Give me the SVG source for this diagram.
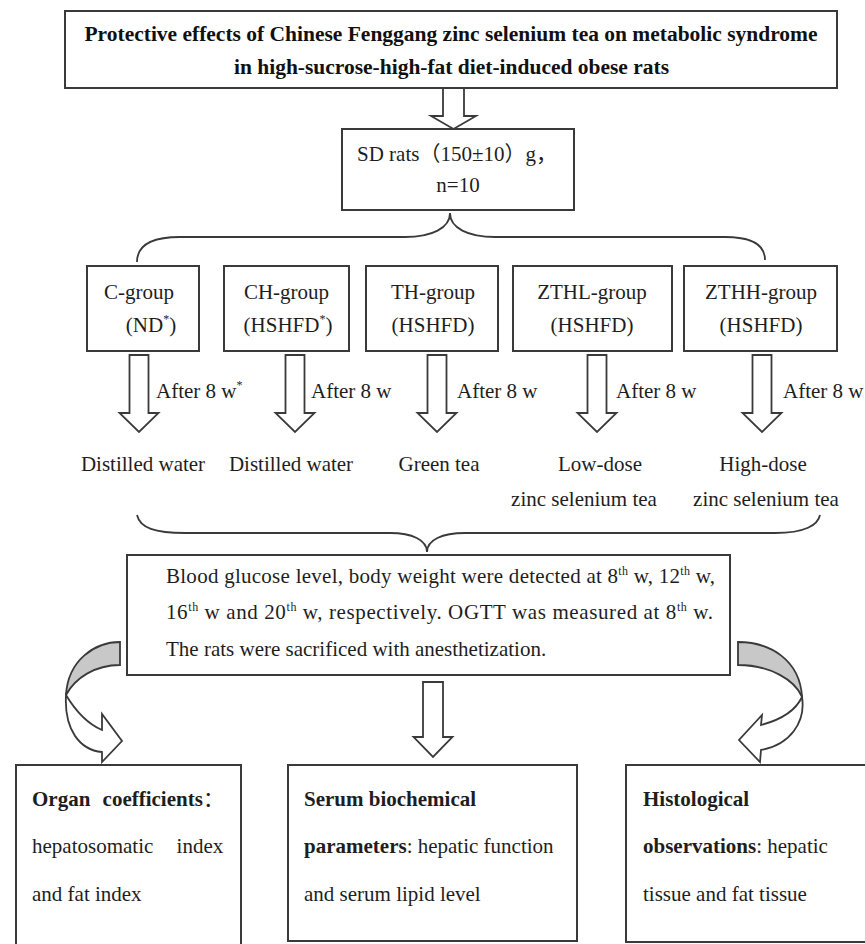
<svg xmlns="http://www.w3.org/2000/svg" width="865" height="944" viewBox="0 0 865 944">
<style>
  .box{fill:#fff;stroke:#3a3a3a;stroke-width:2}
  .t{font-family:"Liberation Serif","Noto Sans CJK SC",serif;font-size:21px;fill:#1e1e1e}
  .b{font-weight:bold}
  .title{font-family:"Liberation Serif","Noto Sans CJK SC",serif;font-size:20px;font-weight:bold;fill:#111}
  .c{text-anchor:middle}
  .sup{font-size:12px}
  .arr{fill:#fff;stroke:#3a3a3a;stroke-width:1.8;stroke-linejoin:miter}
  .brace{fill:none;stroke:#3a3a3a;stroke-width:1.8}
  .gray{fill:#c8c8c8;stroke:#3a3a3a;stroke-width:1.8}
</style>
<defs>
  <path id="down" d="M-9.5,0 L9.5,0 L9.5,58 L19.5,58 L0,77 L-19.5,58 L-9.5,58 Z"/>
</defs>
<rect width="865" height="944" fill="#fff"/>

<g id="connectors">
  <path class="arr" d="M443,88 L443,116 L431,116 L453.5,129 L476,116 L464,116 L464,88 Z"/>
  <path class="brace" d="M137,262 C137,247 148,237 180,237 L405,237 C432,237 450,228 450,213 C450,228 468,237 495,237 L725,237 C755,237 765,247 765,260"/>
  <use href="#down" class="arr" transform="translate(139,355)"/>
  <use href="#down" class="arr" transform="translate(295,355)"/>
  <use href="#down" class="arr" transform="translate(437,355)"/>
  <use href="#down" class="arr" transform="translate(597,355)"/>
  <use href="#down" class="arr" transform="translate(762,355)"/>
  <path class="brace" d="M137,515 C140,528 155,533 185,533 L390,533 C412,533 427,540 427,552 C427,540 442,533 465,533 L775,533 C805,533 818,525 820,515"/>
  <path class="arr" d="M423,682 L443,682 L443,737 L452.5,737 L433,757 L413.5,737 L423,737 Z"/>
  <path class="gray" d="M120,642 C95,642 68,660 66,695 C75,678 95,665 120,665 Z"/>
  <path class="arr" d="M66,695 C75,710 88,724 102,730 L102,714 L122,741 L102,762 L102,752 C80,750 64,730 66,695 Z"/>
  <path class="gray" d="M738,642 C770,642 800,660 802,697 C795,680 770,665 738,665 Z"/>
  <path class="arr" d="M802,697 C806,722 790,745 761,750 L760,762 L739,740 L762,715 L761,725 C780,720 795,712 802,697 Z"/>
</g>

<g id="title">
  <rect class="box" x="65" y="11" width="772" height="77"/>
  <text class="title c" x="451" y="41" textLength="733" lengthAdjust="spacingAndGlyphs">Protective effects of Chinese Fenggang zinc selenium tea on metabolic syndrome</text>
  <text class="title c" x="451.5" y="74" textLength="435" lengthAdjust="spacingAndGlyphs">in high-sucrose-high-fat diet-induced obese rats</text>
</g>

<g id="sd-rats">
  <rect class="box" x="342" y="129" width="232" height="81"/>
  <text class="t" x="357" y="161">SD rats（150±10）g，</text>
  <text class="t c" x="458" y="192">n=10</text>
</g>

<g id="c-group">
  <rect class="box" x="87" y="266" width="112" height="85"/>
  <text class="t c" x="139" y="299">C-group</text>
  <text class="t c" x="151" y="332">(ND<tspan class="sup" dy="-9">*</tspan><tspan dy="9">)</tspan></text>
</g>
<g id="ch-group">
  <rect class="box" x="224" y="266" width="125" height="85"/>
  <text class="t c" x="286.5" y="299">CH-group</text>
  <text class="t c" x="288" y="332">(HSHFD<tspan class="sup" dy="-9">*</tspan><tspan dy="9">)</tspan></text>
</g>
<g id="th-group">
  <rect class="box" x="366" y="266" width="132" height="85"/>
  <text class="t c" x="433" y="299">TH-group</text>
  <text class="t c" x="433" y="332">(HSHFD)</text>
</g>
<g id="zthl-group">
  <rect class="box" x="513" y="266" width="159" height="85"/>
  <text class="t c" x="592" y="299">ZTHL-group</text>
  <text class="t c" x="592" y="332">(HSHFD)</text>
</g>
<g id="zthh-group">
  <rect class="box" x="684" y="266" width="153" height="85"/>
  <text class="t c" x="761" y="299">ZTHH-group</text>
  <text class="t c" x="761" y="332">(HSHFD)</text>
</g>

<g id="after-labels">
  <text class="t" x="156" y="398">After 8 w<tspan class="sup" dy="-9">*</tspan></text>
  <text class="t" x="311" y="398">After 8 w</text>
  <text class="t" x="457" y="398">After 8 w</text>
  <text class="t" x="616" y="398">After 8 w</text>
  <text class="t" x="783" y="398">After 8 w</text>
</g>

<g id="treatments">
  <text class="t c" x="143" y="471">Distilled water</text>
  <text class="t c" x="291" y="471">Distilled water</text>
  <text class="t c" x="439" y="471">Green tea</text>
  <text class="t c" x="600" y="471">Low-dose</text>
  <text class="t c" x="584" y="506">zinc selenium tea</text>
  <text class="t c" x="763" y="471">High-dose</text>
  <text class="t c" x="766" y="506">zinc selenium tea</text>
</g>

<g id="measurements">
  <rect class="box" x="127" y="555" width="603" height="120"/>
  <text class="t" x="166" y="583" textLength="549" lengthAdjust="spacing">Blood glucose level, body weight were detected at 8<tspan class="sup" dy="-8">th</tspan><tspan dy="8"> w, 12</tspan><tspan class="sup" dy="-8">th</tspan><tspan dy="8"> w,</tspan></text>
  <text class="t" x="166" y="619" textLength="547" lengthAdjust="spacing">16<tspan class="sup" dy="-8">th</tspan><tspan dy="8"> w and 20</tspan><tspan class="sup" dy="-8">th</tspan><tspan dy="8"> w, respectively. OGTT was measured at 8</tspan><tspan class="sup" dy="-8">th</tspan><tspan dy="8"> w.</tspan></text>
  <text class="t" x="166" y="656">The rats were sacrificed with anesthetization.</text>
</g>

<g id="organ">
  <rect class="box" x="16" y="765" width="225" height="190"/>
  <text class="t b" x="32" y="806" word-spacing="7">Organ coefficients<tspan font-weight="normal">：</tspan></text>
  <text class="t" x="32" y="853" word-spacing="18">hepatosomatic index</text>
  <text class="t" x="32" y="901">and fat index</text>
</g>

<g id="serum">
  <rect class="box" x="288" y="765" width="289" height="176"/>
  <text class="t b" x="304" y="806">Serum biochemical</text>
  <text class="t" x="304" y="853"><tspan class="b">parameters</tspan>: hepatic function</text>
  <text class="t" x="304" y="901">and serum lipid level</text>
</g>

<g id="histological">
  <rect class="box" x="626" y="765" width="250" height="177"/>
  <text class="t b" x="643" y="806">Histological</text>
  <text class="t" x="643" y="853"><tspan class="b">observations</tspan>: hepatic</text>
  <text class="t" x="643" y="901">tissue and fat tissue</text>
</g>
</svg>
